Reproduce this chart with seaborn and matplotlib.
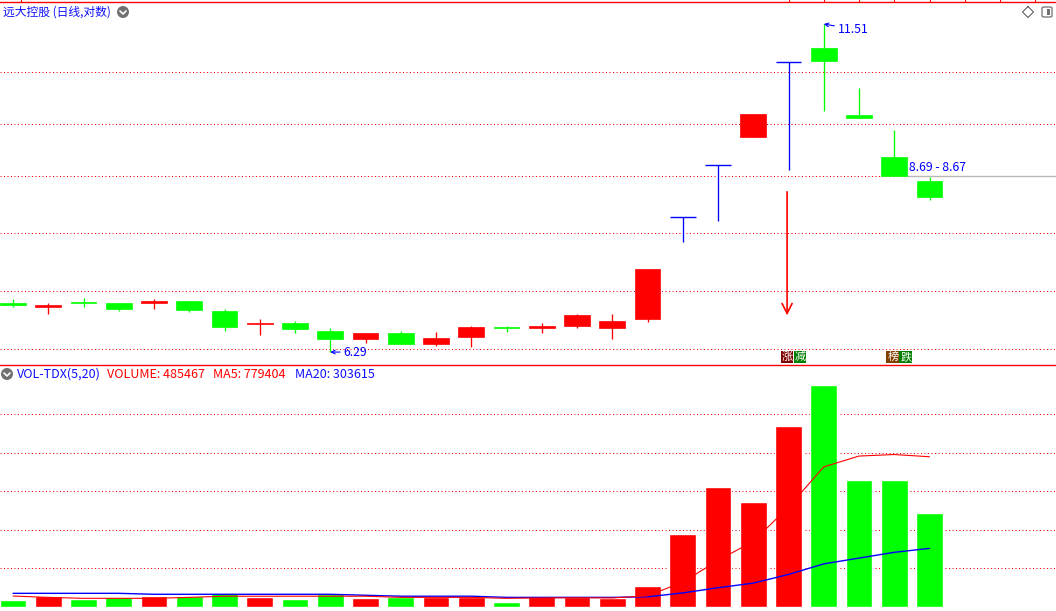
import numpy as np
import pandas as pd
import seaborn as sns
import matplotlib.pyplot as plt
from matplotlib.lines import Line2D
from matplotlib.patches import Ellipse, FancyBboxPatch, Rectangle
from matplotlib.transforms import blended_transform_factory

# 27 daily sessions, prices in yuan
opens = [6.89, 6.84, 6.90, 6.89, 6.89, 6.91, 6.78, 6.62, 6.64, 6.54, 6.44, 6.52, 6.38, 6.47,
         6.59, 6.57, 6.60, 6.58, 6.68, 8.06, 8.87, 9.35, 10.74, 11.01, 9.73, 9.01, 8.62]
highs = [6.93, 6.88, 6.95, 6.89, 6.94, 6.91, 6.81, 6.68, 6.66, 6.57, 6.52, 6.54, 6.53, 6.60,
         6.60, 6.64, 6.75, 6.75, 7.33, 8.06, 8.87, 9.76, 10.74, 11.51, 10.23, 9.47, 8.69]
lows = [6.84, 6.75, 6.84, 6.78, 6.81, 6.77, 6.54, 6.49, 6.51, 6.29, 6.40, 6.39, 6.36, 6.35,
        6.53, 6.52, 6.57, 6.44, 6.65, 7.70, 8.01, 9.35, 8.80, 9.81, 9.68, 8.70, 8.32]
closes = [6.86, 6.86, 6.89, 6.81, 6.91, 6.80, 6.59, 6.64, 6.56, 6.44, 6.52, 6.39, 6.46, 6.59,
          6.57, 6.60, 6.74, 6.66, 7.33, 8.06, 8.87, 9.76, 10.74, 10.75, 9.68, 8.70, 8.37]
volumes = [35000, 56000, 40000, 51000, 56000, 56000, 72000, 52000, 40000, 66000, 46000, 51000,
           51000, 51000, 25000, 56000, 51000, 47000, 108000, 378000, 622000, 544000, 939000,
           1152000, 659000, 659000, 485467]
ma5 = [56000, 49000, 44000, 44000, 44000, 49000, 55000, 55000, 55000, 55000, 55000, 49000,
       49000, 49000, 44000, 46000, 47000, 46000, 57000, 128000, 241000, 340000, 518000,
       727000, 783000, 791000, 779404]
ma20 = [70000, 70000, 70000, 70000, 65000, 65000, 65000, 65000, 65000, 65000, 60000, 55000,
        55000, 55000, 49000, 49000, 49000, 49000, 52000, 72000, 99000, 123000, 168000,
        223000, 253000, 283000, 303615]

price_grid = [6.33, 7.04, 7.83, 8.70, 9.57, 10.54]
vol_grid = [200000, 400000, 600000, 800000, 1000000]

title = '远大控股 (日线,对数)'
vol_title = [('VOL-TDX(5,20)', 17, 'blue'), ('VOLUME: 485467', 107, 'red'),
             ('MA5: 779404', 213, 'red'), ('MA20: 303615', 295, 'blue')]
high_label = '11.51'
low_label = '6.29'
price_label = '8.69 - 8.67'
tags = {22: [('涨', '#800000'), ('减', '#008000')], 25: [('榜', '#804000'), ('跌', '#008000')]}
signal_idx = 22
signal_from, signal_to = 8.45, 6.73
top_marks = [0.23, 22, 23, 24, 25, 26, 27, 28, 29]

RED, GREEN, BLUE = '#ff0000', '#00ff00', '#0000ff'

sns.set_theme(style='white')
plt.rcParams['font.family'] = ['Noto Sans CJK SC', 'DejaVu Sans']

W, H = 1056, 611
fig = plt.figure(figsize=(W / 100, H / 100), dpi=100)


def fx(x):
    return x / W


def fy(y):
    return 1 - y / H


split = 365
ax_p = fig.add_axes([0, fy(split), 1, (split - 2) / H])
ax_v = fig.add_axes([0, 0, 1, (H - split) / H])

df = pd.DataFrame({'idx': np.arange(len(opens)), 'open': opens, 'high': highs, 'low': lows,
                   'close': closes, 'vol': volumes, 'ma5': ma5, 'ma20': ma20})
df['dir'] = np.where(df['close'] >= df['open'], 'up', 'down')
flat_top = (df['open'] == df['close']) & (df['close'] == df['high'])
df['color'] = np.where(flat_top, BLUE, np.where(df['dir'] == 'up', RED, GREEN))

slot = 35.25   # pixels per session
x0 = 13        # pixel centre of the first candle
xlim = (-x0 / slot, (W - x0) / slot)
body_w = 0.73

# price panel (log scale)
for p in price_grid:
    ax_p.axhline(p, color=RED, lw=0.72, ls=(0, (1, 2.5)), zorder=0)
ax_p.vlines(df['idx'], df['low'], df['high'], colors=df['color'], lw=0.95, zorder=2)
body_lo = df[['open', 'close']].min(axis=1)
body_hi = df[['open', 'close']].max(axis=1)
ax_p.bar(df['idx'], body_hi - body_lo, bottom=body_lo, width=body_w, color=df['color'],
         edgecolor=df['color'], linewidth=np.where(flat_top, 1.0, 0.5), zorder=3)
ax_p.set_yscale('log')
ax_p.set_ylim(6.142, 11.987)
ax_p.set_xlim(xlim)

ax_p.hlines(closes[25], 25 + body_w / 2 + 0.01, xlim[1], color='#b8b8b8', lw=1.0, zorder=1)

i_hi = int(df['high'].idxmax())
ax_p.annotate(high_label, xy=(i_hi, highs[i_hi]), xytext=(10, -3.6), textcoords='offset points',
              ha='left', va='center', color=BLUE, fontsize=8.8,
              arrowprops=dict(arrowstyle='->,head_length=0.3,head_width=0.15', color=BLUE,
                              lw=0.8, shrinkA=0, shrinkB=0))
i_lo = int(df['low'].idxmin())
ax_p.annotate(low_label, xy=(i_lo, lows[i_lo]), xytext=(9.4, 0), textcoords='offset points',
              ha='left', va='center', color=BLUE, fontsize=8.8,
              arrowprops=dict(arrowstyle='->,head_length=0.3,head_width=0.15', color=BLUE,
                              lw=0.8, shrinkA=0, shrinkB=0))
ax_p.annotate(price_label, xy=(25 + body_w / 2, closes[25]), xytext=(1, 5.8),
              textcoords='offset points', ha='left', va='center', color=BLUE, fontsize=8.8)

ax_p.annotate('', xy=(signal_idx - 0.04, signal_to), xytext=(signal_idx - 0.04, signal_from),
              arrowprops=dict(arrowstyle='->,head_length=0.6,head_width=0.3', color=RED,
                              lw=1.2, shrinkA=0, shrinkB=0))

trans = blended_transform_factory(ax_p.transData, ax_p.transAxes)
for i, chars in tags.items():
    cx = i + 5 / slot
    for k, (ch, bg) in enumerate(chars):
        ax_p.text(cx + (k - 0.5) * 13 / slot, 0.022, ch, transform=trans, color='white',
                  fontsize=8, ha='center', va='center',
                  bbox=dict(boxstyle='square,pad=0.08', fc=bg, ec='none'))

ax_p.vlines(top_marks, 1, 1.008, transform=trans, colors=RED, lw=0.8, clip_on=False)

# volume panel
for v in vol_grid:
    ax_v.axhline(v, color=RED, lw=0.72, ls=(0, (1, 2.5)), zorder=0)
sns.barplot(data=df, x='idx', y='vol', hue='dir', palette={'up': RED, 'down': GREEN},
            native_scale=True, width=0.76, dodge=False, saturation=1, errorbar=None,
            legend=False, ax=ax_v, zorder=1)
sns.lineplot(x=df['idx'], y=df['ma20'], color=BLUE, lw=1.0, ax=ax_v)
sns.lineplot(x=df['idx'], y=df['ma5'], color=RED, lw=0.8, ax=ax_v)
ax_v.set_ylim(-21800, 1256000)
ax_v.set_xlim(xlim)
ax_v.set_xlabel('')
ax_v.set_ylabel('')

for ax in (ax_p, ax_v):
    ax.tick_params(which='both', left=False, bottom=False, labelleft=False, labelbottom=False)
    ax.set_xticks([])
    ax.set_yticks([])
    ax.minorticks_off()
    for s in ax.spines.values():
        s.set_visible(False)
    ax.spines['top'].set_visible(True)
    ax.spines['top'].set_color(RED)
    ax.spines['top'].set_linewidth(1.0)

# header texts and little icons
fig.text(fx(3), fy(12), title, color='#1010ff', fontsize=8.5, ha='left', va='center')
for txt, x, c in vol_title:
    fig.text(fx(x), fy(374), txt, color='#1010ff' if c == 'blue' else RED, fontsize=9,
             ha='left', va='center')

for cx, cy in [(123, 12), (7, 374)]:
    fig.add_artist(Ellipse((fx(cx), fy(cy)), 12 / W, 12 / H, transform=fig.transFigure,
                           fc='#707070', ec='none'))
    fig.add_artist(Line2D([fx(cx - 3), fx(cx), fx(cx + 3)], [fy(cy - 1), fy(cy + 2), fy(cy - 1)],
                          transform=fig.transFigure, color='white', lw=1.2))

fig.add_artist(Line2D([fx(1028), fx(1033.5), fx(1028), fx(1022.5), fx(1028)],
                      [fy(6.5), fy(12), fy(17.5), fy(12), fy(6.5)],
                      transform=fig.transFigure, color='#606060', lw=0.8))
fig.add_artist(FancyBboxPatch((fx(1042), fy(17)), 10 / W, 10 / H,
                              boxstyle='round,pad=0,rounding_size=0.002',
                              transform=fig.transFigure, fc='white', ec='#707070', lw=0.9))
fig.add_artist(Rectangle((fx(1046.5), fy(15)), 3.5 / W, 6 / H, transform=fig.transFigure,
                         fc='#707070', ec='none'))

fig.savefig('out.png', dpi=100)
